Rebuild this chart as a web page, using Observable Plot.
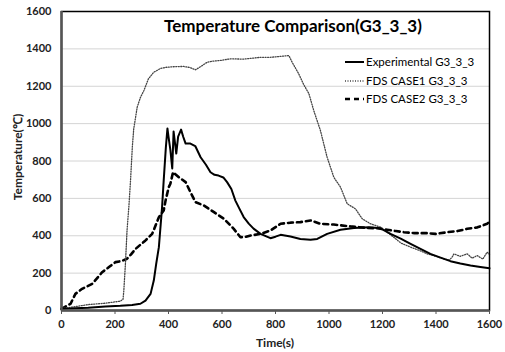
<!DOCTYPE html>
<html>
<head>
<meta charset="utf-8">
<script src="https://cdn.jsdelivr.net/npm/d3@7"></script>
<script src="https://cdn.jsdelivr.net/npm/@observablehq/plot@0.6"></script>
<style>
  html, body { margin: 0; padding: 0; background: #fff; }
  #chart svg { display: block; }
</style>
</head>
<body>
<div id="chart"></div>
<script>
const title = "Temperature Comparison(G3_3_3)";
const xLabel = "Time(s)";
const yLabel = "Temperature(\u2103)";
const seriesNames = ["Experimental G3_3_3", "FDS CASE1 G3_3_3", "FDS CASE2 G3_3_3"];
const ticks = [0, 200, 400, 600, 800, 1000, 1200, 1400, 1600];

const expTime = [0,50,100,164,220,264,295,314,333,345,354,364,376,382,390,396,400,407,414,419,424,429,436,447,455,464,482,500,520,540,557,572,587,605,619,635,650,665,681,700,718,744,781,800,819,856,893,931,956,993,1043,1093,1149,1193,1230,1268,1305,1342,1379,1417,1454,1491,1529,1566,1600];
const expTemp = [8,12,15,21,25,30,36,53,89,160,250,339,553,695,870,974,930,860,760,958,900,840,930,968,930,893,893,880,820,780,740,726,722,712,687,650,588,545,500,465,438,410,387,395,405,396,383,378,383,410,432,442,446,440,410,385,357,330,303,283,264,252,241,233,226];

const c1Time = [0,52,102,164,220,230,233,239,245,252,258,265,270,283,295,308,325,345,370,395,425,457,480,501,520,545,570,594,632,680,744,781,820,850,862,887,905,925,943,968,993,1018,1043,1068,1099,1124,1155,1193,1242,1270,1305,1340,1367,1400,1429,1450,1460,1467,1490,1517,1535,1554,1575,1591,1600];
const c1Temp = [10,21,32,39,50,60,107,251,428,560,695,880,972,1088,1140,1177,1240,1275,1295,1302,1305,1306,1300,1288,1305,1329,1335,1338,1347,1345,1355,1355,1360,1364,1329,1266,1210,1160,1070,963,820,713,660,571,544,491,464,446,392,360,339,320,303,290,276,270,285,303,290,303,280,294,275,312,300];

const c2Time = [0,34,52,77,115,152,180,202,225,245,260,277,314,339,364,382,389,401,407,417,439,464,482,501,532,570,607,644,669,690,707,744,781,819,856,893,931,968,1018,1080,1143,1180,1217,1250,1280,1320,1367,1400,1442,1480,1517,1555,1591,1600];
const c2Temp = [9,36,89,116,143,205,235,259,265,277,300,330,375,410,499,535,588,660,678,740,713,687,633,580,562,526,491,437,392,395,401,410,428,464,470,473,482,464,460,450,442,440,432,425,419,414,414,410,419,425,437,445,464,475];

const styles = [
  {stroke: "#000", strokeWidth: 2, dash: null},
  {stroke: "#444", strokeWidth: 1.3, dash: "1,1.5"},
  {stroke: "#000", strokeWidth: 2.6, dash: "5,4"}
];

const exp = expTime.map((t, i) => ({t, v: expTemp[i]}));
const c1 = c1Time.map((t, i) => ({t, v: c1Temp[i]}));
const c2 = c2Time.map((t, i) => ({t, v: c2Temp[i]}));

const font = "Lato, 'Open Sans', sans-serif";

const chart = Plot.plot({
  width: 505,
  height: 352,
  marginLeft: 61,
  marginRight: 16,
  marginTop: 11,
  marginBottom: 42,
  style: {fontFamily: font, fontSize: "11px", fontWeight: "bold", color: "#222", background: "#fff"},
  x: {domain: [0, 1600], ticks: ticks},
  y: {domain: [0, 1600], ticks: ticks},
  marks: [
    Plot.gridY(ticks, {stroke: "#d4d4d4", strokeOpacity: 1, strokeWidth: 1}),
    Plot.line(c2, {x: "t", y: "v", stroke: styles[2].stroke, strokeWidth: styles[2].strokeWidth, strokeDasharray: styles[2].dash}),
    Plot.line(c1, {x: "t", y: "v", stroke: styles[1].stroke, strokeWidth: styles[1].strokeWidth, strokeDasharray: styles[1].dash}),
    Plot.line(exp, {x: "t", y: "v", stroke: styles[0].stroke, strokeWidth: styles[0].strokeWidth}),
    Plot.frame({stroke: "#000", strokeWidth: 1.5}),
    Plot.ruleX([0], {stroke: "#555", strokeWidth: 2.5}),
    Plot.ruleY([0], {stroke: "#555", strokeWidth: 2.5}),
    Plot.axisX({ticks: ticks, tickSize: 4, tickPadding: 6, label: null, stroke: "#555", fontWeight: "bold", tickFormat: d3.format("d")}),
    Plot.axisY({ticks: ticks, tickSize: 0, tickPadding: 10, label: null, fontWeight: "bold", tickFormat: d3.format("d")})
  ]
});

document.getElementById("chart").appendChild(chart);

const svg = d3.select(chart);
svg.append("text")
  .attr("x", 293).attr("y", 32)
  .attr("text-anchor", "middle")
  .style("font-family", font).style("font-weight", "bold").style("font-size", "17px")
  .attr("fill", "#000")
  .text(title);

svg.append("text")
  .attr("transform", "translate(22,157) rotate(-90)")
  .attr("text-anchor", "middle")
  .style("font-family", font).style("font-weight", "bold").style("font-size", "12px")
  .attr("fill", "#222")
  .text(yLabel);

svg.append("text")
  .attr("x", 275).attr("y", 347)
  .attr("text-anchor", "middle")
  .style("font-family", font).style("font-weight", "bold").style("font-size", "12px")
  .attr("fill", "#222")
  .text(xLabel);

const legY = [62, 81, 99];
seriesNames.forEach((name, i) => {
  const g = svg.append("g");
  const ln = g.append("line")
    .attr("x1", 345).attr("x2", 364)
    .attr("y1", legY[i]).attr("y2", legY[i])
    .attr("stroke", styles[i].stroke)
    .attr("stroke-width", styles[i].strokeWidth);
  if (styles[i].dash) ln.attr("stroke-dasharray", styles[i].dash);
  g.append("text")
    .attr("x", 366).attr("y", legY[i] + 4)
    .attr("text-anchor", "start")
    .style("font-family", font).style("font-size", "11.5px").style("font-weight", "normal")
    .attr("fill", "#000")
    .text(name);
});
</script>
</body>
</html>
